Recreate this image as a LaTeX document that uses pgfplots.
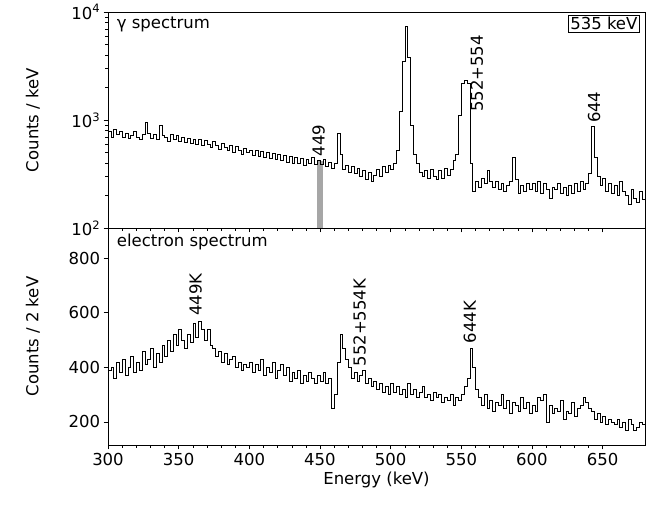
\documentclass[border=0pt]{standalone}
\usepackage{pgfplots}
\pgfplotsset{compat=1.18}
\usepackage{fontspec}
\setmainfont{DejaVu Sans}
\setsansfont{DejaVu Sans}
\begin{document}
\begin{tikzpicture}[x=1pt,y=1pt,font=\fontsize{16.5}{19}\selectfont]
\pgfplotsset{every axis/.style={scale only axis, width=537pt, xmin=300, xmax=680,
  xtick={300,350,...,650}, minor x tick num=4, tick align=outside, tick style={black,thin},
  xtick pos=left, ytick pos=left,
  axis line style={black,thin}, ticklabel style={font=\fontsize{16.5}{19}\selectfont},
  /pgf/number format/assume math mode=true, ylabel style={font=\fontsize{16.5}{19}\selectfont}}}
\path[use as bounding box] (0,0) rectangle (670,508);
\begin{axis}[at={(108pt,280pt)}, anchor=south west, height=216pt, ymode=log, ymin=100, ymax=10000,
  xticklabels={}, ylabel={Counts / keV}, ylabel style={at={(axis description cs:-0.12,0.5)}},
  ytick={100,1000,10000}, yticklabels={10\textsuperscript{2},10\textsuperscript{3},10\textsuperscript{4}}, minor y tick num=8]
\addplot[fill=gray!70, draw=none] coordinates {(448,100)(448,420)(452,420)(452,100)} -- cycle;
\addplot[const plot, black, thin] coordinates {
(300,780)(302,700)(304,820)(306,740)(308,790)(310,700)(312,760)(314,680)(316,730)(318,780)(320,700)(322,660)(324,740)(326,960)(328,760)(330,680)(332,740)(334,660)(336,900)(338,720)
(340,700)(342,640)(344,740)(346,660)(348,720)(350,630)(352,700)(354,620)(356,680)(358,610)(360,670)(362,600)(364,660)(366,580)(368,650)(370,600)(372,560)(374,640)(376,580)(378,540)(380,610)(382,560)(384,520)(386,590)(388,500)(390,570)(392,520)(394,480)(396,550)(398,500)
(400,530)(402,470)(404,520)(406,460)(408,510)(410,450)(412,500)(414,440)(416,490)(418,430)(420,480)(422,420)(424,470)(426,410)(428,460)(430,400)(432,450)(434,400)(436,440)(438,380)(440,430)(442,400)(444,450)(446,390)(448,420)
(450,390)(452,430)(454,370)(456,410)(458,360)(460,400)(462,750)(464,480)(466,350)(468,380)(470,330)(472,370)(474,320)(476,360)(478,300)(480,340)(482,280)(484,330)(486,270)(488,310)(490,350)(492,300)(494,370)(496,330)(498,380)
(500,350)(502,400)(504,520)(506,1200)(508,3500)(510,7400)(512,3800)(514,900)(516,480)(518,400)(520,330)(522,300)(524,340)(526,290)(528,350)(530,300)(532,280)(534,340)(536,290)(538,360)(540,310)(542,350)(544,420)(546,480)(548,1100)
(550,2200)(552,2350)(554,2200)(556,400)(558,220)(560,270)(562,240)(564,290)(566,260)(568,340)(570,270)(572,240)(574,270)(576,230)(578,260)(580,220)(582,250)(584,270)(586,450)(588,280)(590,210)(592,250)(594,220)(596,260)(598,230)
(600,260)(602,220)(604,270)(606,210)(608,260)(610,230)(612,190)(614,240)(616,230)(618,260)(620,210)(622,240)(624,200)(626,250)(628,210)(630,260)(632,220)(634,270)(636,230)(638,260)(640,320)(642,880)(644,450)(646,300)(648,250)
(650,290)(652,220)(654,260)(656,210)(658,250)(660,200)(662,270)(664,220)(666,200)(668,165)(670,230)(672,190)(674,175)(676,220)(678,185)(680,185)};
\node[anchor=north west] at (axis description cs:0.01,0.995) {γ spectrum};
\node[anchor=north east, draw, thin, inner sep=2pt] at (axis description cs:0.99,0.985) {535 keV};
\node[rotate=90, anchor=west] at (axis cs:449,430) {449};
\node[rotate=90, anchor=west] at (axis cs:561,1100) {552+554};
\node[rotate=90, anchor=west] at (axis cs:644,870) {644};
\end{axis}
\begin{axis}[at={(108pt,63pt)}, anchor=south west, height=217pt, ymin=115, ymax=910,
  ytick={200,400,600,800}, minor y tick num=0, xlabel={Energy (keV)},
  ylabel={Counts / 2 keV}, ylabel style={at={(axis description cs:-0.12,0.5)}},
  xlabel style={font=\fontsize{16.5}{19}\selectfont}]
\addplot[const plot, black, thin] coordinates {
(300,390)(302,400)(304,360)(306,420)(308,380)(310,430)(312,370)(314,400)(316,440)(318,380)(320,420)(322,390)(324,460)(326,410)(328,430)(330,470)(332,400)(334,450)(336,420)(338,480)(340,440)(342,500)(344,460)(346,520)(348,480)
(350,540)(352,500)(354,470)(356,520)(358,490)(360,560)(362,510)(364,570)(366,540)(368,500)(370,540)(372,480)(374,470)(376,440)(378,460)(380,420)(382,450)(384,410)(386,430)(388,440)(390,400)(392,420)(394,390)(396,410)(398,400)
(400,420)(402,380)(404,410)(406,390)(408,430)(410,370)(412,400)(414,380)(416,420)(418,360)(420,390)(422,410)(424,370)(426,400)(428,350)(430,380)(432,360)(434,390)(436,340)(438,370)(440,350)(442,380)(444,360)(446,340)(448,370)
(450,350)(452,380)(454,340)(456,360)(458,250)(460,300)(462,420)(464,520)(466,470)(468,430)(470,400)(472,360)(474,380)(476,350)(478,370)(480,390)(482,340)(484,360)(486,330)(488,350)(490,320)(492,340)(494,310)(496,330)(498,300)
(500,340)(502,310)(504,330)(506,300)(508,320)(510,290)(512,340)(514,300)(516,320)(518,290)(520,310)(522,330)(524,290)(526,300)(528,280)(530,310)(532,290)(534,300)(536,270)(538,290)(540,280)(542,300)(544,260)(546,290)(548,280)
(550,300)(552,330)(554,360)(556,470)(558,400)(560,320)(562,290)(564,260)(566,300)(568,250)(570,280)(572,240)(574,270)(576,260)(578,300)(580,250)(582,280)(584,230)(586,270)(588,260)(590,240)(592,290)(594,250)(596,270)(598,230)
(600,260)(602,240)(604,290)(606,280)(608,300)(610,200)(612,260)(614,230)(616,250)(618,240)(620,280)(622,210)(624,240)(626,230)(628,270)(630,220)(632,250)(634,260)(636,290)(638,270)(640,250)(642,240)(644,210)(646,230)(648,200)
(650,220)(652,190)(654,210)(656,200)(658,190)(660,210)(662,180)(664,200)(666,170)(668,210)(670,190)(672,170)(674,180)(676,200)(678,190)(680,210)};
\node[anchor=north west] at (axis description cs:0.01,0.99) {electron spectrum};
\node[rotate=90, anchor=west] at (axis cs:362,575) {449K};
\node[rotate=90, anchor=west] at (axis cs:478,390) {552+554K};
\node[rotate=90, anchor=west] at (axis cs:556,475) {644K};
\end{axis}
\end{tikzpicture}
\end{document}
